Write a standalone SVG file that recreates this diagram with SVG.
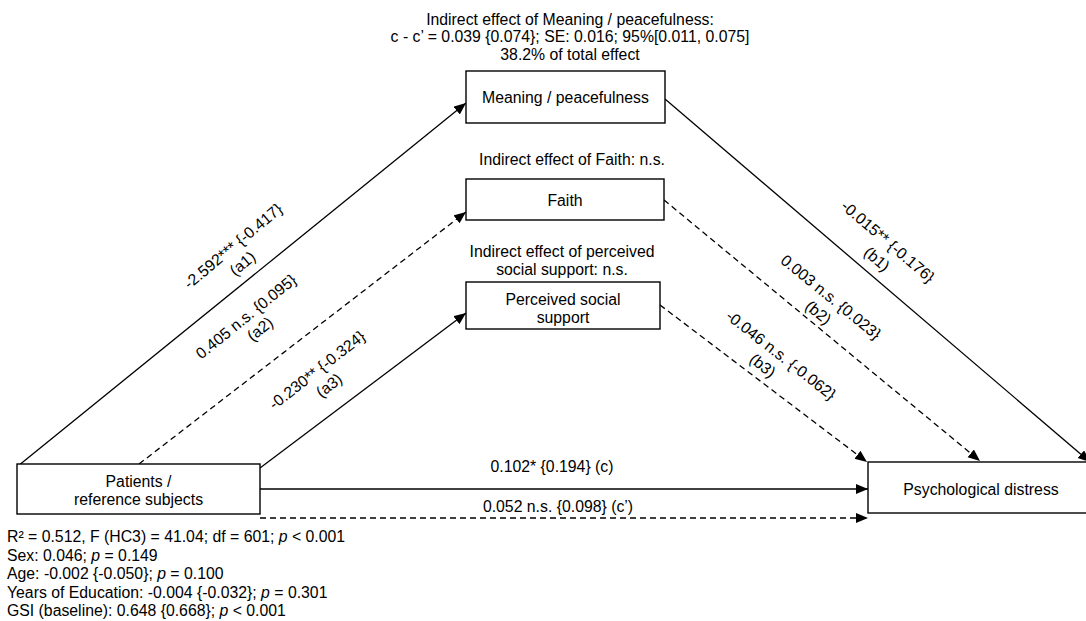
<svg xmlns="http://www.w3.org/2000/svg" width="1086" height="621" viewBox="0 0 1086 621">
<defs>
<style>
.t{font-family:"Liberation Sans",Arial,Helvetica,sans-serif;font-size:15.8px;fill:#000}
.m{text-anchor:middle}
.box{fill:#fff;stroke:#000;stroke-width:1.4}
.e{fill:none;stroke:#000;stroke-width:1.3}
.d{stroke-dasharray:6 4}
.i{font-style:italic}
</style>
<marker id="ah" markerUnits="userSpaceOnUse" markerWidth="13" markerHeight="11" refX="12" refY="5" orient="auto" viewBox="0 0 13 11">
<path d="M0,0 L12,5 L0,10 z" fill="#000"/>
</marker>
</defs>
<rect width="1086" height="621" fill="#fff"/>

<g id="connectors">
<line class="e" x1="18" y1="466" x2="466" y2="103" marker-end="url(#ah)"/>
<line class="e d" x1="139" y1="464" x2="466" y2="212" marker-end="url(#ah)"/>
<line class="e" x1="260" y1="468" x2="466" y2="313" marker-end="url(#ah)"/>
<line class="e" x1="665" y1="99" x2="1090" y2="462" marker-end="url(#ah)"/>
<line class="e d" x1="664" y1="200" x2="980" y2="461" marker-end="url(#ah)"/>
<line class="e d" x1="660" y1="305" x2="867" y2="462" marker-end="url(#ah)"/>
<line class="e" x1="260" y1="489" x2="868" y2="489" marker-end="url(#ah)"/>
<line class="e d" x1="260" y1="518" x2="868" y2="518" marker-end="url(#ah)"/>

<g transform="translate(233,246) rotate(-40)">
<text class="t m" x="0" y="5.5">-2.592*** {-0.417}</text>
<text class="t m" x="-4" y="25">(a1)</text>
</g>
<g transform="translate(246,316.5) rotate(-39)">
<text class="t m" x="0" y="5.5">0.405 n.s. {0.095}</text>
<text class="t m" x="3" y="24">(a2)</text>
</g>
<g transform="translate(317,370) rotate(-38)">
<text class="t m" x="0" y="5.5">-0.230** {-0.324}</text>
<text class="t m" x="0" y="25">(a3)</text>
</g>
<g transform="translate(888,241.5) rotate(40.5)">
<text class="t m" x="0" y="5.5">-0.015** {-0.176}</text>
<text class="t m" x="3" y="26">(b1)</text>
</g>
<g transform="translate(831,297) rotate(39.2)">
<text class="t m" x="0" y="5.5">0.003 n.s. {0.023}</text>
<text class="t m" x="0" y="25.5">(b2)</text>
</g>
<g transform="translate(781,355) rotate(38)">
<text class="t m" x="0" y="5.5">-0.046 n.s. {-0.062}</text>
<text class="t m" x="-8" y="25">(b3)</text>
</g>
<text class="t m" x="552" y="471.7">0.102* {0.194} (c)</text>
<text class="t m" x="558" y="511.7">0.052 n.s. {0.098} (c’)</text>
</g>

<g id="n-meaning">
<rect class="box" x="466" y="71" width="199" height="52"/>
<text class="t m" x="565.5" y="102.5">Meaning / peacefulness</text>
<text class="t m" x="570" y="24.5">Indirect effect of Meaning / peacefulness:</text>
<text class="t m" x="570" y="42">c - c’ = 0.039 {0.074}; SE: 0.016; 95%[0.011, 0.075]</text>
<text class="t m" x="570" y="59.5">38.2% of total effect</text>
</g>

<g id="n-faith">
<rect class="box" x="466" y="179" width="198" height="41"/>
<text class="t m" x="565" y="205.5">Faith</text>
<text class="t m" x="572" y="164.5">Indirect effect of Faith: n.s.</text>
</g>

<g id="n-support">
<rect class="box" x="466" y="282" width="194" height="47"/>
<text class="t m" x="563" y="305">Perceived social</text>
<text class="t m" x="563" y="323">support</text>
<text class="t m" x="562" y="257">Indirect effect of perceived</text>
<text class="t m" x="562" y="275">social support: n.s.</text>
</g>

<g id="n-patients">
<rect class="box" x="17" y="464" width="243" height="50"/>
<text class="t m" x="138.5" y="487">Patients /</text>
<text class="t m" x="138.5" y="505">reference subjects</text>
</g>

<g id="n-distress">
<rect class="box" x="868" y="462" width="226" height="51"/>
<text class="t m" x="981" y="494.5">Psychological distress</text>
</g>

<g id="stats">
<text class="t" x="7" y="542">R² = 0.512, F (HC3) = 41.04; df = 601; <tspan class="i">p</tspan> &lt; 0.001</text>
<text class="t" x="7" y="560.5">Sex: 0.046; <tspan class="i">p</tspan> = 0.149</text>
<text class="t" x="7" y="579">Age: -0.002 {-0.050}; <tspan class="i">p</tspan> = 0.100</text>
<text class="t" x="7" y="597.5">Years of Education: -0.004 {-0.032}; <tspan class="i">p</tspan> = 0.301</text>
<text class="t" x="7" y="616">GSI (baseline): 0.648 {0.668}; <tspan class="i">p</tspan> &lt; 0.001</text>
</g>
</svg>
